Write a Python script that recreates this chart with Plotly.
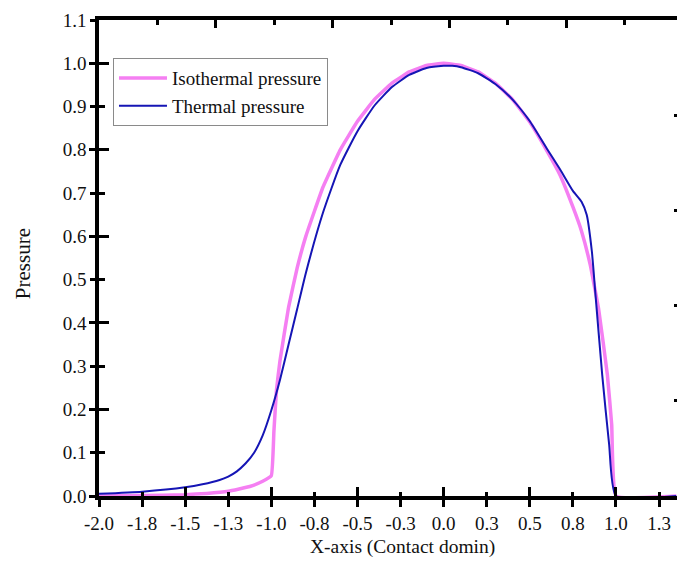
import plotly.graph_objects as go

# ---------------- data ----------------
iso_x = [-2.0, -1.75, -1.5, -1.375, -1.25, -1.125, -1.05, -1.0, -0.985, -0.97, -0.95, -0.9, -0.85,
         -0.8, -0.7, -0.6, -0.5, -0.4, -0.3, -0.2, -0.1, 0.0, 0.1, 0.2, 0.3, 0.4, 0.5,
         0.6, 0.675, 0.75, 0.8, 0.85, 0.9, 0.95, 0.975, 1.0, 1.35]
iso_y = [0.000, 0.001, 0.003, 0.006, 0.011, 0.022, 0.034, 0.047, 0.15, 0.245, 0.312, 0.436, 0.527,
         0.600, 0.714, 0.800, 0.866, 0.917, 0.954, 0.980, 0.995, 1.000, 0.995, 0.980, 0.954, 0.916, 0.864,
         0.797, 0.742, 0.668, 0.612, 0.535, 0.43, 0.28, 0.165, 0.0, 0.0]

th_x = [-2.0, -1.75, -1.5, -1.4, -1.3, -1.25, -1.2, -1.15, -1.1, -1.05, -1.0, -0.95, -0.9, -0.85,
        -0.8, -0.7, -0.6, -0.5, -0.4, -0.3, -0.2, -0.1, 0.0, 0.05, 0.1, 0.2, 0.3, 0.4, 0.5,
        0.6, 0.675, 0.75, 0.8, 0.83, 0.86, 0.88, 0.92, 0.96, 1.0, 1.35]
th_y = [0.005, 0.010, 0.020, 0.027, 0.037, 0.045, 0.057, 0.075, 0.100, 0.140, 0.198, 0.268, 0.350, 0.432,
        0.515, 0.655, 0.765, 0.843, 0.903, 0.945, 0.973, 0.989, 0.994, 0.994, 0.991, 0.977, 0.952, 0.916, 0.866,
        0.802, 0.755, 0.705, 0.680, 0.650, 0.565, 0.47, 0.28, 0.12, 0.0, 0.0]

x_tickvals = [-2.0, -1.75, -1.5, -1.25, -1.0, -0.75, -0.5, -0.25, 0.0, 0.25, 0.5, 0.75, 1.0, 1.25]
x_ticktext = ["-2.0", "-1.8", "-1.5", "-1.3", "-1.0", "-0.8", "-0.5", "-0.3",
              "0.0", "0.3", "0.5", "0.8", "1.0", "1.3"]
x_major = [-2.0, -1.5, -1.0, -0.5, 0.0, 0.5, 1.0]
x_minor = [-1.75, -1.25, -0.75, -0.25, 0.25, 0.75, 1.25]

y_tickvals = [0.0, 0.1, 0.2, 0.3, 0.4, 0.5, 0.6, 0.7, 0.8, 0.9, 1.0, 1.1]
y_ticktext = ["0.0", "0.1", "0.2", "0.3", "0.4", "0.5", "0.6", "0.7", "0.8", "0.9", "1.0", "1.1"]
y_major = [0.0, 0.2, 0.4, 0.6, 0.8, 1.0]
y_minor = [0.1, 0.3, 0.5, 0.7, 0.9, 1.1]

# frame (top / right) tick positions, in frame units
top_major = [2, 4, 6, 8]
top_minor = [1, 3, 5, 7, 9]
right_ticks = [1, 2, 3, 4]

X_MIN, X_MAX = -2.0, 1.354
Y_MIN, Y_MAX = 0.0, 1.1
TOP_MAX = 9.897
RIGHT_MAX = 5

FONT = "Liberation Serif"
INK = "black"
TW = 3

fig = go.Figure()
fig.add_trace(go.Scatter(x=iso_x, y=iso_y, mode="lines", name="Isothermal pressure",
                         line=dict(color="#F57FF2", width=3.5, shape="spline", smoothing=0.3)))
fig.add_trace(go.Scatter(x=th_x, y=th_y, mode="lines", name="Thermal pressure",
                         line=dict(color="#1515B5", width=2, shape="spline", smoothing=0.5)))

# invisible anchor traces so that every helper (tick-only) axis is drawn
helper_pairs = [("x2", "y2", TOP_MAX, RIGHT_MAX), ("x3", "y3", X_MAX, Y_MAX),
                ("x4", "y4", X_MAX, Y_MAX), ("x5", "y5", X_MAX, Y_MAX), ("x6", "y2", TOP_MAX, RIGHT_MAX)]
for xa, ya, xm, ym in helper_pairs:
    fig.add_trace(go.Scatter(x=[xm], y=[ym], xaxis=xa, yaxis=ya, mode="markers",
                             marker=dict(opacity=0), showlegend=False, hoverinfo="skip"))


def helper_x(rng, vals, side, anchor, ticks, length):
    return dict(overlaying="x", side=side, anchor=anchor, range=rng, tickmode="array",
                tickvals=vals, ticks=ticks, ticklen=length, tickwidth=TW, tickcolor=INK,
                showticklabels=False, showline=False, showgrid=False, zeroline=False)


def helper_y(rng, vals, side, anchor, ticks, length):
    return dict(overlaying="y", side=side, anchor=anchor, range=rng, tickmode="array",
                tickvals=vals, ticks=ticks, ticklen=length, tickwidth=TW, tickcolor=INK,
                showticklabels=False, showline=False, showgrid=False, zeroline=False)


fig.update_layout(
    width=677, height=562,
    margin=dict(l=99, r=0, t=20, b=66),
    paper_bgcolor="white", plot_bgcolor="white",
    font=dict(family=FONT, size=19, color="black"),
    showlegend=True,
    legend=dict(x=0.0242, y=0.92, xanchor="left", yanchor="top",
                bgcolor="white", bordercolor="#8a8a8a", borderwidth=1,
                font=dict(family=FONT, size=19, color="#111"),
                itemwidth=48, tracegroupgap=0),
    xaxis=dict(range=[X_MIN, X_MAX], tickmode="array", tickvals=x_tickvals, ticktext=x_ticktext,
               ticks="outside", ticklen=7, tickwidth=TW, tickcolor=INK,
               showline=True, linecolor=INK, linewidth=3.5, mirror=True,
               showgrid=False, zeroline=False,
               tickfont=dict(family=FONT, size=19, color="#111")),
    yaxis=dict(range=[Y_MIN, Y_MAX], tickmode="array", tickvals=y_tickvals, ticktext=y_ticktext,
               ticks="outside", ticklen=5, tickwidth=TW, tickcolor=INK,
               showline=True, linecolor=INK, linewidth=3.5,
               showgrid=False, zeroline=False,
               tickfont=dict(family=FONT, size=19, color="#111")),
    xaxis3=helper_x([X_MIN, X_MAX], x_major, "bottom", "y3", "outside", 9),
    xaxis4=helper_x([X_MIN, X_MAX], x_major, "bottom", "y4", "inside", 9),
    xaxis5=helper_x([X_MIN, X_MAX], x_minor, "bottom", "y5", "inside", 4),
    yaxis3=helper_y([Y_MIN, Y_MAX], y_major, "left", "x3", "outside", 9),
    yaxis4=helper_y([Y_MIN, Y_MAX], y_major, "left", "x4", "inside", 10),
    yaxis5=helper_y([Y_MIN, Y_MAX], y_minor, "left", "x5", "inside", 6),
    xaxis2=helper_x([0, TOP_MAX], top_major, "top", "y2", "inside", 8),
    xaxis6=helper_x([0, TOP_MAX], top_minor, "top", "y2", "inside", 5),
    yaxis2=helper_y([0, RIGHT_MAX], right_ticks, "right", "x2", "inside", 3),
    annotations=[
        dict(text="X-axis (Contact domin)", xref="paper", yref="paper", x=(402 - 99) / 578,
             y=-(547 - 495.7) / 475.7, xanchor="center", yanchor="middle", showarrow=False,
             font=dict(family=FONT, size=19.5, color="#111")),
        dict(text="Pressure", xref="paper", yref="paper", x=-(99 - 23) / 578,
             y=(495.7 - 264) / 475.7, xanchor="center", yanchor="middle", showarrow=False,
             textangle=-90, font=dict(family=FONT, size=21, color="#111")),
    ],
)

fig.write_html("out.html")
